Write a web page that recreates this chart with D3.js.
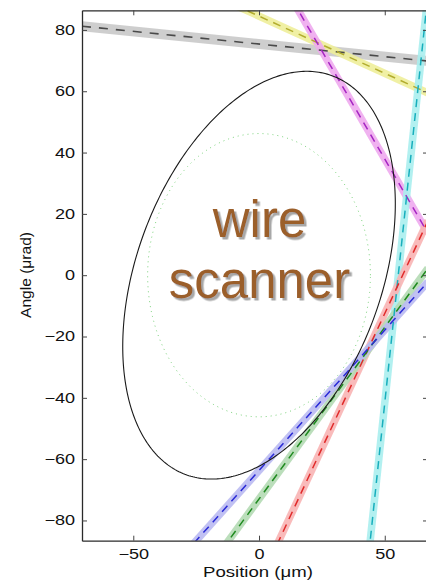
<!DOCTYPE html>
<html>
<head>
<meta charset="utf-8">
<script src="https://cdn.jsdelivr.net/npm/d3@7/dist/d3.min.js"></script>
<style>
  html, body { margin: 0; padding: 0; background: #fff; }
  svg { display: block; font-family: "Liberation Sans", Arial, Helvetica, sans-serif; }
</style>
</head>
<body>
<svg id="chart" width="426" height="580"></svg>
<script>
// Axis ticks
const xTicks = [-50, 0, 50];
const yTicks = [-80, -60, -40, -20, 0, 20, 40, 60, 80];

// Wire-scan constraint lines: angle = slope * position + intercept
const scanNames      = ["gray", "yellow", "magenta", "cyan", "red", "green", "blue"];
const scanSlopes     = [-0.0826, -0.373, -1.41, 7.76, 1.76, 1.12, 0.916];
const scanIntercepts = [75.4, 84.5, 108.4, -429.7, -100.5, -73.0, -63.7];

// Phase-space ellipses: half-widths in position and angle, and x–angle correlation
const beamEllipse   = { xMax: 54.2, yMax: 66.5, corr: 0.35 };
const designEllipse = { xMax: 44.3, yMax: 46.2, corr: 0.0 };

// Styles
const bandColors = {
  gray: "#c9c9c9", yellow: "#eeee9a", magenta: "#eeaaee", cyan: "#aaeeee",
  red: "#f8b4b4", green: "#b4dab4", blue: "#babaf2"
};
const dashColors = {
  gray: "#4a4a4a", yellow: "#b2ac2e", magenta: "#a526c2", cyan: "#18aebc",
  red: "#e02a2a", green: "#1f8a1f", blue: "#2a2ad6"
};

const svg = d3.select("#chart");
const plot = { left: 82, top: 10.3, right: 428, bottom: 540.7 };

const x = d3.scaleLinear().domain([-70.4, 67.2]).range([plot.left, plot.right]);
const y = d3.scaleLinear().domain([-86.6, 86.4]).range([plot.bottom, plot.top]);

const defs = svg.append("defs");
defs.append("clipPath").attr("id", "plotClip")
  .append("rect")
  .attr("x", plot.left).attr("y", plot.top)
  .attr("width", plot.right - plot.left).attr("height", plot.bottom - plot.top);

// Soft grey drop shadow for the caption
const shadow = defs.append("filter").attr("id", "captionShadow")
  .attr("x", "-10%").attr("y", "-10%").attr("width", "130%").attr("height", "140%");
shadow.append("feDropShadow")
  .attr("dx", 2.5).attr("dy", 2.5).attr("stdDeviation", 0.6)
  .attr("flood-color", "#a8a8a8").attr("flood-opacity", 1);

const g = svg.append("g").attr("clip-path", "url(#plotClip)");

const scans = scanNames.map((name, i) => ({ name, slope: scanSlopes[i], intercept: scanIntercepts[i] }));
const xEnds = x.domain();
const lineGen = d3.line().x(d => x(d[0])).y(d => y(d[1]));
const scanPoints = s => xEnds.map(px => [px, s.slope * px + s.intercept]);

// Wide translucent bands
g.selectAll("path.band").data(scans).join("path")
  .attr("class", "band")
  .attr("d", d => lineGen(scanPoints(d)))
  .attr("fill", "none")
  .attr("stroke", d => bandColors[d.name])
  .attr("stroke-width", d => d.name === "gray" ? 10 : 7.5)
  .attr("stroke-opacity", 0.9);

// Dashed centre lines
g.selectAll("path.dash").data(scans).join("path")
  .attr("class", "dash")
  .attr("d", d => lineGen(scanPoints(d)))
  .attr("fill", "none")
  .attr("stroke", d => dashColors[d.name])
  .attr("stroke-width", d => d.name === "gray" ? 1.6 : 1.5)
  .attr("stroke-dasharray", d => d.name === "gray" ? "9,8" : "8,6");

// Ellipse outline from half-widths and correlation
function ellipsePoints(e) {
  const delta = Math.acos(e.corr);
  return d3.range(0, 2 * Math.PI, Math.PI / 180).map(t => [e.xMax * Math.cos(t), e.yMax * Math.cos(t - delta)]);
}
const closedLine = d3.line().x(d => x(d[0])).y(d => y(d[1])).curve(d3.curveLinearClosed);

g.append("path")
  .attr("d", closedLine(ellipsePoints(designEllipse)))
  .attr("fill", "none")
  .attr("stroke", "#7cd27c")
  .attr("stroke-width", 1)
  .attr("stroke-dasharray", "1,4");

g.append("path")
  .attr("d", closedLine(ellipsePoints(beamEllipse)))
  .attr("fill", "none")
  .attr("stroke", "#1a1a1a")
  .attr("stroke-width", 1.1);

// Axes (ticks pointing inward)
const tickScale = "scale(1.29,1)";

const leftAxis = svg.append("g").attr("transform", `translate(${plot.left},0)`)
  .call(d3.axisLeft(y).tickValues(yTicks).tickSizeInner(-5).tickSizeOuter(0).tickPadding(7));
leftAxis.selectAll("text").attr("x", 0)
  .attr("transform", `translate(-7,0) ${tickScale}`);

const bottomAxis = svg.append("g").attr("transform", `translate(0,${plot.bottom})`)
  .call(d3.axisBottom(x).tickValues(xTicks).tickSizeInner(-5).tickSizeOuter(0).tickPadding(8));
bottomAxis.selectAll("text").attr("transform", tickScale);

const topAxis = svg.append("g").attr("transform", `translate(0,${plot.top})`)
  .call(d3.axisTop(x).tickValues(xTicks).tickSizeInner(-5).tickSizeOuter(0).tickFormat(""));

const rightAxis = svg.append("g").attr("transform", `translate(${plot.right},0)`)
  .call(d3.axisRight(y).tickValues(yTicks).tickSizeInner(-5).tickSizeOuter(0).tickFormat(""));

[leftAxis, bottomAxis, topAxis, rightAxis].forEach(a => {
  a.select(".domain").attr("stroke", "#2a2a2a").attr("stroke-width", 1.3);
  a.selectAll(".tick line").attr("stroke", "#444").attr("stroke-width", 1);
  a.selectAll("text").attr("font-size", 14).attr("fill", "#111")
    .attr("font-family", "'Liberation Sans', Arial, sans-serif");
});

// Axis titles
svg.append("text")
  .attr("x", 258).attr("y", 576.5)
  .attr("text-anchor", "middle")
  .attr("font-size", 15).attr("fill", "#111")
  .attr("textLength", 110).attr("lengthAdjust", "spacingAndGlyphs")
  .text("Position (μm)");

svg.append("text")
  .attr("transform", "translate(31,275) rotate(-90)")
  .attr("text-anchor", "middle")
  .attr("font-size", 14).attr("fill", "#111")
  .attr("textLength", 86).attr("lengthAdjust", "spacingAndGlyphs")
  .text("Angle (μrad)");

// Overlay caption with drop shadow
const caption = ["wire", "scanner"];
const captionY = [236.7, 298.3];
svg.append("g")
  .attr("font-size", 51).attr("text-anchor", "middle")
  .attr("fill", "#9b5e2b")
  .attr("filter", "url(#captionShadow)")
  .selectAll("text").data(caption).join("text")
  .attr("x", 259.5)
  .attr("y", (d, i) => captionY[i])
  .text(d => d);
</script>
</body>
</html>
